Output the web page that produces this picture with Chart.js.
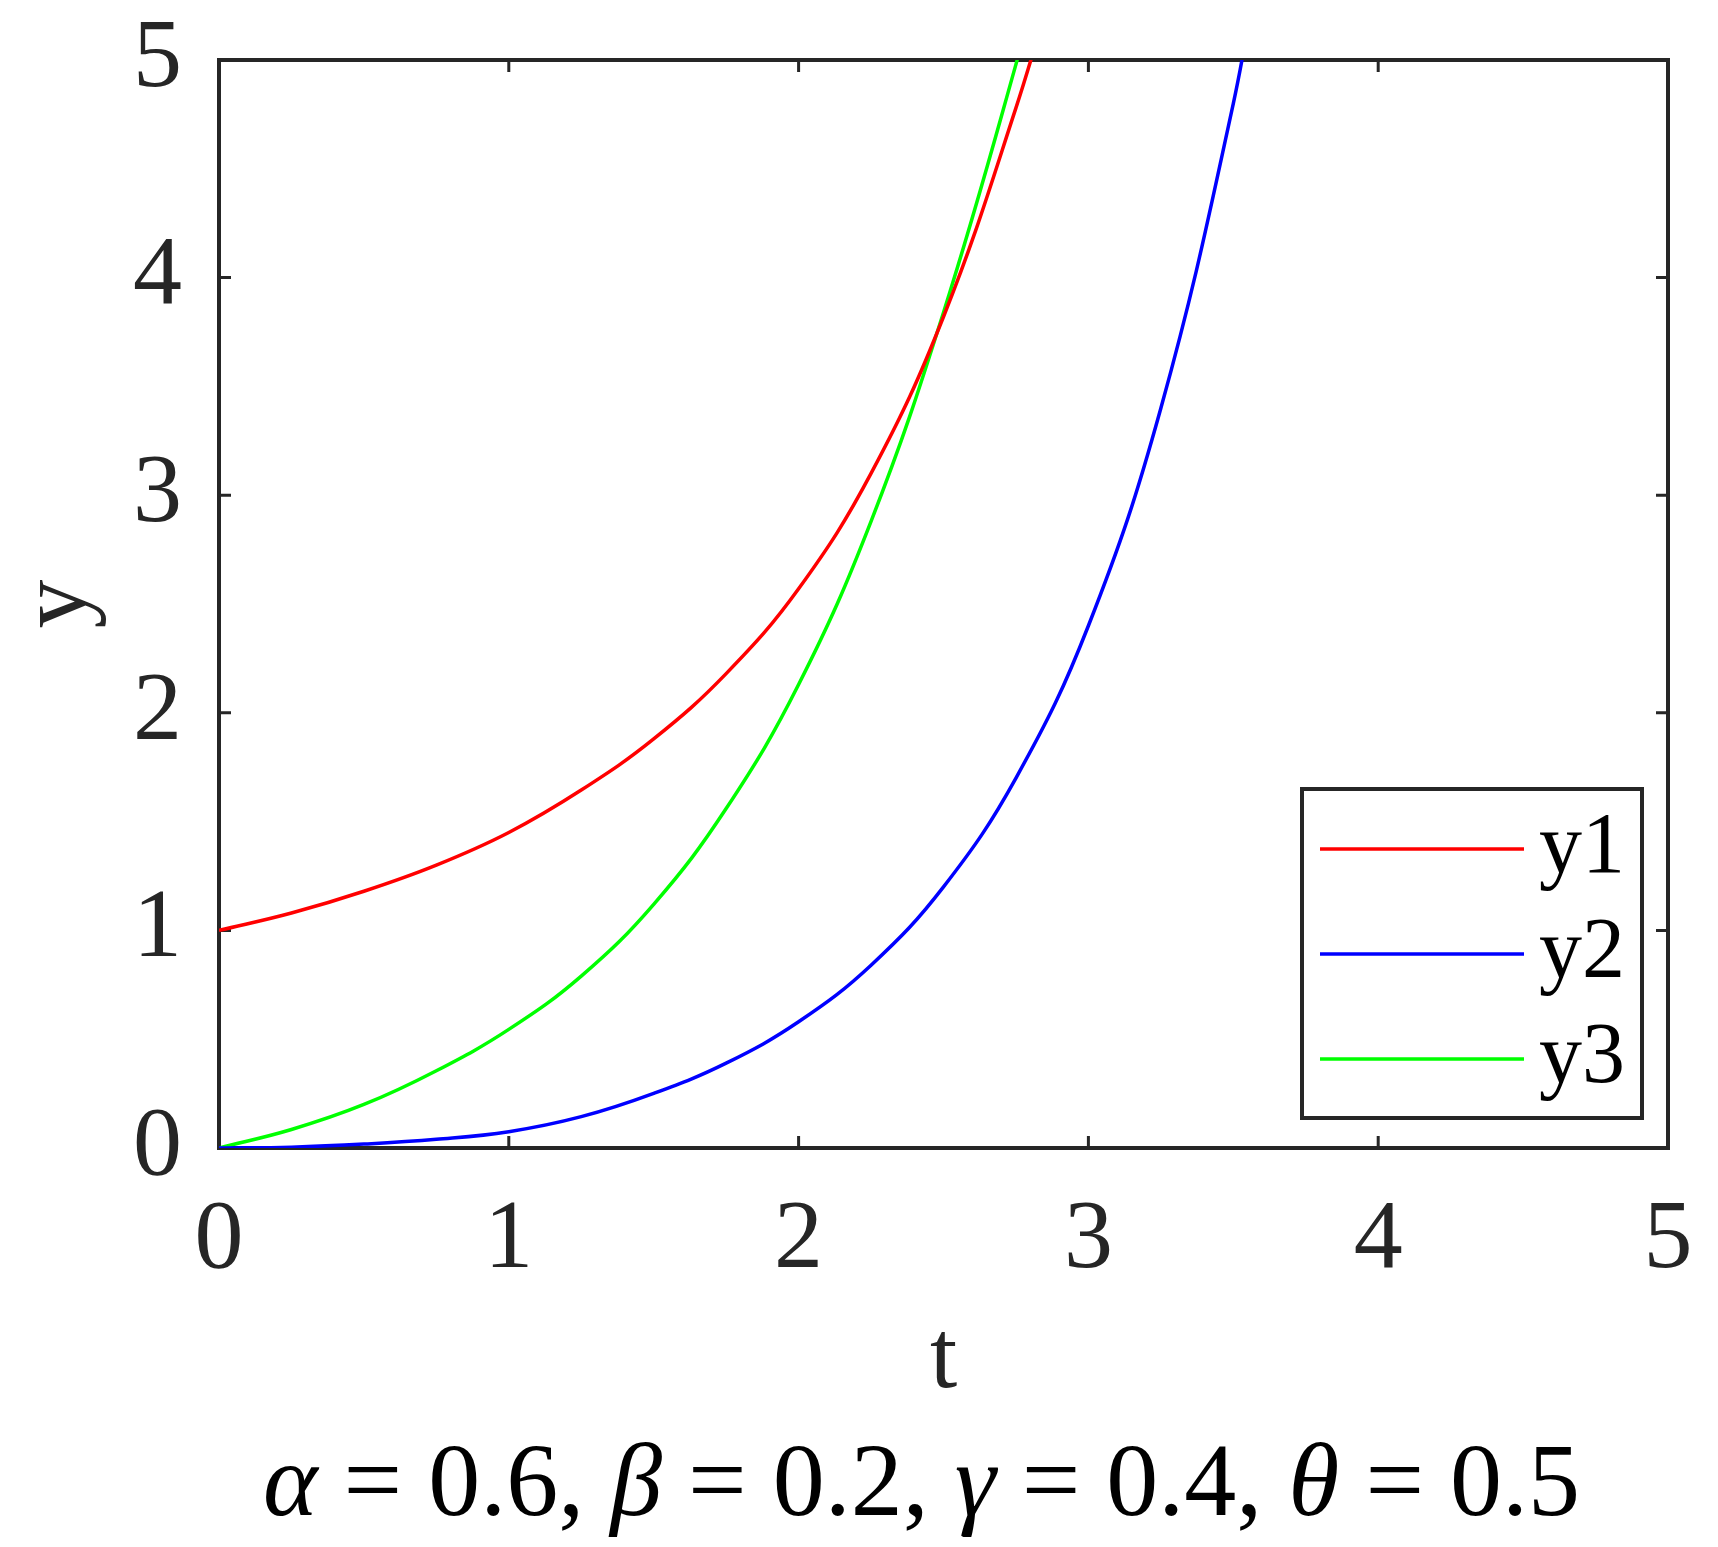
<!DOCTYPE html>
<html>
<head>
<meta charset="utf-8">
<script src="https://cdn.jsdelivr.net/npm/chart.js@4.4.0/dist/chart.umd.min.js"></script>
<style>
    html, body { margin: 0; padding: 0; background: #fff; }
    #wrap { width: 1718px; height: 1547px; }
</style>
</head>
<body>
<div id="wrap"><canvas id="solution-chart" width="1718" height="1547"></canvas></div>
<script>
// Nilai (t, y)
const tRed = [0, 0.25, 0.5, 0.75, 1, 1.25, 1.5, 1.75, 2, 2.25, 2.5, 2.75, 2.9];
const y1 = [1.00, 1.08, 1.18, 1.30, 1.45, 1.645, 1.88, 2.18, 2.57, 3.10, 3.82, 4.78, 5.45];

const tBlue = [0, 0.25, 0.5, 0.75, 1, 1.25, 1.5, 1.75, 2, 2.25, 2.5, 2.75, 3, 3.25, 3.5, 3.6];
const y2 = [0, 0.004, 0.018, 0.04, 0.075, 0.144, 0.251, 0.39, 0.58, 0.84, 1.20, 1.70, 2.40, 3.40, 4.80, 5.55];

const tGreen = [0, 0.25, 0.5, 0.75, 1, 1.25, 1.5, 1.75, 2, 2.25, 2.5, 2.75, 2.85];
const y3 = [0, 0.085, 0.20, 0.355, 0.545, 0.79, 1.12, 1.56, 2.13, 2.88, 3.84, 4.98, 5.5];

const seriesNames = ['y1', 'y2', 'y3'];
const seriesColors = ['#ff0000', '#0000ff', '#00ff00'];
const axisMin = 0;
const axisMax = 5;

// teks keterangan di bawah (huruf Yunani miring)
const captionParts = [
    ['α', true], [' = 0.6, ', false],
    ['β', true], [' = 0.2, ', false],
    ['γ', true], [' = 0.4, ', false],
    ['θ', true], [' = 0.5', false]
];

const FONT = '"Liberation Serif", "Times New Roman", serif';
const INK = '#262626';
Chart.defaults.font.family = FONT;
Chart.defaults.color = INK;

function toPoints(ts, ys) {
    return ts.map(function (t, i) { return { x: t, y: ys[i] }; });
}

function makeSeries(label, ts, ys, color) {
    return {
        label: label,
        data: toPoints(ts, ys),
        borderColor: color,
        backgroundColor: color,
        borderWidth: 3.5,
        pointRadius: 0,
        fill: false,
        tension: 0.4
    };
}

// Kotak sumbu + tick ke dalam di keempat sisi
const axesBox = {
    id: 'axesBox',
    beforeDatasetsDraw(chart) {
        const { ctx, chartArea: a, scales: { x, y } } = chart;
        ctx.save();
        ctx.strokeStyle = INK;
        ctx.lineWidth = 4;
        ctx.strokeRect(a.left, a.top, a.right - a.left, a.bottom - a.top);
        ctx.lineWidth = 3;
        ctx.beginPath();
        x.ticks.forEach(function (tk) {
            const px = x.getPixelForValue(tk.value);
            ctx.moveTo(px, a.bottom); ctx.lineTo(px, a.bottom - 12);
            ctx.moveTo(px, a.top); ctx.lineTo(px, a.top + 12);
        });
        y.ticks.forEach(function (tk) {
            const py = y.getPixelForValue(tk.value);
            ctx.moveTo(a.left, py); ctx.lineTo(a.left + 12, py);
            ctx.moveTo(a.right, py); ctx.lineTo(a.right - 12, py);
        });
        ctx.stroke();
        ctx.restore();
    }
};

// Legenda di pojok kanan bawah
const boxLegend = {
    id: 'boxLegend',
    afterDatasetsDraw(chart) {
        const { ctx, chartArea: a } = chart;
        const w = 340, h = 329;
        const left = a.right - 26 - w;
        const top = a.bottom - 30 - h;
        ctx.save();
        ctx.fillStyle = '#fff';
        ctx.fillRect(left, top, w, h);
        ctx.strokeStyle = INK;
        ctx.lineWidth = 4;
        ctx.strokeRect(left, top, w, h);
        ctx.font = '86px ' + FONT;
        ctx.textBaseline = 'middle';
        ctx.textAlign = 'left';
        chart.data.datasets.forEach(function (ds, i) {
            const ly = top + 60 + i * 105;
            ctx.strokeStyle = ds.borderColor;
            ctx.lineWidth = 3.5;
            ctx.beginPath();
            ctx.moveTo(left + 18, ly);
            ctx.lineTo(left + 222, ly);
            ctx.stroke();
            ctx.fillStyle = '#000';
            ctx.fillText(ds.label, left + 237, ly);
        });
        ctx.restore();
    }
};

// Keterangan parameter di bawah grafik
const captionText = {
    id: 'captionText',
    afterDraw(chart) {
        const { ctx, chartArea: a } = chart;
        ctx.save();
        ctx.fillStyle = '#000';
        ctx.textBaseline = 'alphabetic';
        ctx.textAlign = 'left';
        let total = 0;
        captionParts.forEach(function (p) {
            ctx.font = (p[1] ? 'italic ' : '') + '104px ' + FONT;
            total += ctx.measureText(p[0]).width;
        });
        let cx = (a.left + a.right) / 2 - 22 - total / 2;
        captionParts.forEach(function (p) {
            ctx.font = (p[1] ? 'italic ' : '') + '104px ' + FONT;
            ctx.fillText(p[0], cx, 1515);
            cx += ctx.measureText(p[0]).width;
        });
        ctx.restore();
    }
};

const chartElement = document.getElementById('solution-chart');
new Chart(chartElement, {
    type: 'line',
    data: {
        datasets: [
            makeSeries(seriesNames[0], tRed, y1, seriesColors[0]),
            makeSeries(seriesNames[1], tBlue, y2, seriesColors[1]),
            makeSeries(seriesNames[2], tGreen, y3, seriesColors[2])
        ]
    },
    options: {
        responsive: false,
        animation: false,
        devicePixelRatio: 1,
        layout: { padding: { top: 60, right: 50, left: 0, bottom: 0 } },
        plugins: {
            legend: { display: false },
            tooltip: { enabled: false }
        },
        scales: {
            x: {
                type: 'linear',
                min: axisMin,
                max: axisMax,
                grid: { display: false, drawTicks: false },
                border: { display: false },
                ticks: { stepSize: 1, padding: 34, color: INK, font: { size: 98 } },
                title: {
                    display: true, text: 't', color: INK,
                    font: { size: 98 }, padding: { top: 0, bottom: 127 }
                },
                afterFit: function (scale) {
                    scale.height = 399;
                    scale.paddingLeft = 0;
                    scale.paddingRight = 0;
                }
            },
            y: {
                type: 'linear',
                min: axisMin,
                max: axisMax,
                grid: { display: false, drawTicks: false },
                border: { display: false },
                ticks: { stepSize: 1, padding: 37, color: INK, font: { size: 98 } },
                title: {
                    display: true, text: 'y', color: INK,
                    font: { size: 98 }, padding: { top: 0, bottom: 0 }
                },
                afterFit: function (scale) {
                    scale.width = 219;
                    scale.paddingTop = 0;
                    scale.paddingBottom = 0;
                }
            }
        }
    },
    plugins: [axesBox, boxLegend, captionText]
});
</script>
</body>
</html>
